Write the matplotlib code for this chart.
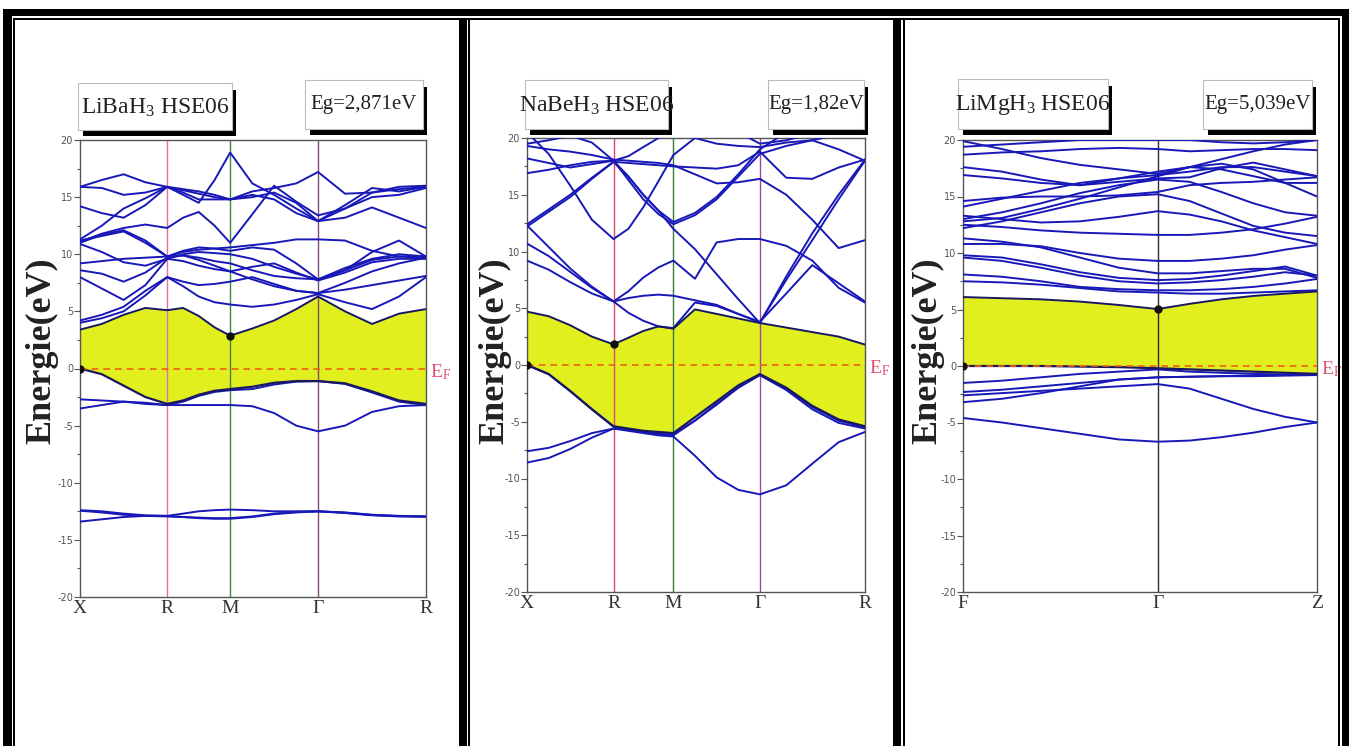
import matplotlib
matplotlib.use('Agg')
import matplotlib.pyplot as plt
from matplotlib.patches import Rectangle

plt.rcParams['mathtext.fontset'] = 'custom'
plt.rcParams['mathtext.rm'] = 'Liberation Serif'
plt.rcParams['mathtext.it'] = 'Liberation Serif'

# ---------------- data ----------------
# Panel 1 : LiBaH3
K1_LABELS = ['X', 'R', 'M', 'Γ', 'R']
K1_NODES = [0.0, 0.252, 0.434, 0.688, 1.0]
K1 = [0, 0.063, 0.126, 0.189, 0.252, 0.298, 0.343, 0.389, 0.434,
      0.498, 0.561, 0.625, 0.688, 0.766, 0.844, 0.922, 1.0]
P1_VBM = [0, -0.5, -1.5, -2.5, -3.1, -2.8, -2.3, -1.95, -1.8, -1.6, -1.25, -1.1, -1.1, -1.3, -2.0, -2.8, -3.1]
P1_CBM = [3.4, 3.9, 4.7, 5.3, 5.1, 5.3, 4.6, 3.6, 2.87, 3.5, 4.2, 5.2, 6.3, 5.0, 3.9, 4.8, 5.2]
P1_BANDS = [
    [-2.7, -2.8, -2.9, -3.1, -3.2, -2.9, -2.4, -2.05, -1.9, -1.8, -1.4, -1.15, -1.1, -1.35, -2.1, -2.9, -3.2],
    [-3.5, -3.2, -2.9, -3.0, -3.2, -3.2, -3.2, -3.2, -3.2, -3.3, -3.9, -5.0, -5.5, -5.0, -3.8, -3.3, -3.2],
    [-12.4, -12.5, -12.7, -12.85, -12.9, -12.7, -12.5, -12.4, -12.35, -12.4, -12.5, -12.5, -12.5, -12.6, -12.8, -12.9, -12.95],
    [-13.4, -13.2, -13.0, -12.9, -12.9, -13.0, -13.1, -13.15, -13.15, -13.0, -12.75, -12.6, -12.5, -12.65, -12.85, -12.95, -12.95],
    [-12.45, -12.6, -12.8, -12.9, -12.95, -13.0, -13.05, -13.1, -13.1, -12.95, -12.7, -12.55, -12.5, -12.62, -12.82, -12.92, -12.98],
    [4.0, 4.4, 5.0, 6.4, 8.0, 7.2, 6.3, 5.8, 5.6, 5.4, 5.6, 6.0, 6.5, 5.8, 5.2, 6.3, 8.0],
    [4.2, 4.7, 5.4, 6.8, 8.0, 7.6, 7.3, 7.4, 7.6, 8.0, 7.4, 6.8, 6.6, 6.9, 7.3, 7.7, 8.1],
    [8.0, 7.0, 6.0, 7.3, 9.6, 9.4, 9.0, 8.7, 8.5, 7.8, 7.2, 6.8, 6.6, 7.5, 8.5, 9.2, 9.7],
    [8.6, 8.3, 7.6, 8.4, 9.7, 9.9, 9.7, 9.4, 9.2, 8.6, 8.1, 7.9, 7.8, 8.6, 9.5, 9.8, 9.7],
    [9.2, 9.4, 9.6, 9.7, 9.8, 10.2, 10.4, 10.5, 10.6, 10.8, 11.0, 11.3, 11.3, 11.2, 10.3, 9.8, 9.8],
    [10.9, 10.2, 9.3, 9.0, 9.6, 10.0, 10.2, 10.1, 10.0, 9.6, 8.9, 8.3, 7.8, 8.8, 9.6, 10.0, 9.8],
    [11.0, 11.7, 12.1, 11.2, 9.8, 10.3, 10.6, 10.5, 10.3, 10.6, 10.4, 9.2, 7.8, 8.6, 10.2, 11.2, 9.8],
    [11.2, 11.6, 12.0, 11.0, 9.8, 9.9, 9.5, 9.0, 8.5, 8.9, 9.2, 8.4, 7.7, 8.4, 9.3, 9.6, 9.6],
    [11.3, 12.5, 14.0, 14.9, 15.9, 15.4, 14.8, 14.8, 14.8, 15.2, 14.8, 13.6, 12.9, 14.0, 15.4, 15.7, 15.9],
    [14.2, 13.6, 13.2, 14.3, 15.9, 15.2, 14.5, 16.5, 18.9, 16.2, 15.2, 14.0, 12.9, 13.2, 14.1, 13.2, 12.3],
    [15.9, 16.5, 17.0, 16.3, 15.9, 15.7, 15.5, 15.2, 14.8, 15.0, 15.4, 14.5, 12.9, 14.3, 15.8, 15.5, 15.9],
    [11.1, 11.8, 12.3, 12.6, 12.3, 13.2, 13.7, 12.5, 11.0, 13.5, 16.0, 14.6, 13.4, 14.0, 15.0, 15.2, 15.8],
    [15.9, 15.8, 15.2, 15.4, 15.9, 15.6, 15.3, 15.0, 14.8, 15.5, 15.8, 16.2, 17.2, 15.3, 15.4, 15.9, 16.0],
]
P1_VLINE_COLORS = ['#e070a8', '#3a8a3a', '#7a4a7a']

# Panel 2 : NaBeH3
K2_LABELS = ['X', 'R', 'M', 'Γ', 'R']
K2_NODES = [0.0, 0.256, 0.433, 0.689, 1.0]
K2 = [0, 0.064, 0.128, 0.192, 0.256, 0.300, 0.344, 0.389, 0.433,
      0.497, 0.561, 0.625, 0.689, 0.767, 0.844, 0.922, 1.0]
P2_VBM = [0, -0.8, -2.3, -3.9, -5.4, -5.6, -5.8, -5.9, -6.0, -4.6, -3.2, -1.8, -0.8, -2.0, -3.6, -4.8, -5.4]
P2_CBM = [4.7, 4.3, 3.5, 2.5, 1.82, 2.4, 3.0, 3.4, 3.2, 4.9, 4.5, 4.1, 3.7, 3.3, 2.9, 2.5, 1.8]
P2_BANDS = [
    [0, -0.8, -2.3, -3.9, -5.45, -5.65, -5.85, -6.0, -6.1, -4.9, -3.5, -2.0, -0.85, -2.1, -3.7, -4.9, -5.5],
    [-7.6, -7.3, -6.7, -6.0, -5.6, -5.8, -6.0, -6.2, -6.3, -8.0, -9.9, -11.0, -11.4, -10.6, -8.7, -6.8, -5.9],
    [-8.6, -8.2, -7.4, -6.4, -5.6, -5.7, -5.9, -6.1, -6.2, -4.9, -3.4, -2.0, -0.9, -2.2, -3.9, -5.1, -5.6],
    [9.2, 8.4, 7.3, 6.3, 5.6, 4.6, 3.9, 3.4, 3.25, 5.5, 5.2, 4.5, 3.75, 7.5, 11.0, 14.6, 18.0],
    [10.7, 9.6, 8.2, 6.8, 5.6, 6.5, 7.7, 8.6, 9.2, 7.6, 10.8, 11.1, 11.1, 10.5, 9.2, 6.8, 5.5],
    [12.3, 10.4, 8.5, 6.9, 5.6, 5.9, 6.1, 6.2, 6.1, 5.7, 5.3, 4.5, 3.8, 6.3, 8.8, 7.2, 5.6],
    [12.4, 13.7, 15.0, 16.5, 17.9, 16.6, 15.0, 13.6, 12.0, 10.2, 8.0, 5.8, 3.7, 7.8, 11.6, 15.0, 18.1],
    [12.2, 13.5, 14.8, 16.4, 17.9, 17.8, 17.7, 17.6, 17.5, 17.4, 17.3, 17.6, 18.8, 16.5, 16.4, 17.4, 18.1],
    [16.9, 17.2, 17.6, 17.9, 18.0, 16.6, 15.0, 13.6, 12.6, 13.4, 14.8, 16.8, 19.0, 20.5, 21.0, 21.0, 21.0],
    [20.5, 18.6, 15.8, 12.8, 11.1, 12.0, 13.9, 16.2, 18.5, 20.0, 21.0, 20.5, 19.5, 19.8, 20.4, 21.0, 21.0],
    [19.5, 19.8, 20.2, 19.6, 18.0, 18.4, 19.2, 20.0, 20.8, 20.0, 19.5, 19.3, 19.2, 19.6, 19.8, 19.0, 18.0],
    [18.2, 17.8, 17.4, 17.7, 18.0, 16.3, 14.6, 13.3, 12.4, 13.2, 14.6, 16.6, 18.6, 19.3, 19.8, 20.3, 21.0],
    [19.3, 19.0, 18.8, 18.5, 18.1, 18.0, 17.9, 17.8, 17.6, 16.8, 16.0, 16.1, 16.4, 15.0, 12.8, 10.3, 11.0],
]
P2_VLINE_COLORS = ['#e04a6a', '#3a7a3a', '#9a4a9a']

# Panel 3 : LiMgH3
K3_LABELS = ['F', 'Γ', 'Z']
K3_NODES = [0.0, 0.55, 1.0]
K3 = [0, 0.11, 0.22, 0.33, 0.44, 0.55, 0.64, 0.73, 0.82, 0.91, 1.0]
P3_VBM = [0, 0, 0, -0.05, -0.1, -0.2, -0.3, -0.4, -0.5, -0.6, -0.7]
P3_CBM = [6.1, 6.0, 5.9, 5.7, 5.4, 5.04, 5.5, 5.9, 6.2, 6.4, 6.6]
P3_BANDS = [
    [-1.5, -1.3, -1.0, -0.7, -0.5, -0.3, -0.5, -0.6, -0.7, -0.75, -0.8],
    [-2.3, -2.1, -1.8, -1.5, -1.2, -1.0, -0.95, -0.9, -0.9, -0.85, -0.8],
    [-2.6, -2.4, -2.2, -2.0, -1.8, -1.6, -2.0, -2.9, -3.8, -4.5, -5.0],
    [-3.2, -2.9, -2.4, -1.8, -1.2, -1.0, -0.95, -0.9, -0.85, -0.8, -0.8],
    [-4.6, -5.0, -5.5, -6.0, -6.5, -6.7, -6.6, -6.3, -5.9, -5.4, -5.0],
    [7.5, 7.4, 7.2, 6.9, 6.6, 6.5, 6.4, 6.4, 6.5, 6.6, 6.7],
    [8.1, 7.9, 7.5, 7.0, 6.8, 6.7, 6.7, 6.8, 7.0, 7.3, 7.7],
    [9.6, 9.3, 8.7, 8.0, 7.5, 7.3, 7.4, 7.6, 7.9, 8.3, 8.0],
    [9.8, 9.6, 9.0, 8.3, 7.8, 7.6, 7.7, 8.0, 8.4, 8.8, 8.0],
    [10.8, 10.8, 10.6, 10.0, 9.5, 9.3, 9.3, 9.5, 9.8, 10.3, 10.7],
    [11.3, 11.0, 10.5, 9.6, 8.7, 8.2, 8.2, 8.4, 8.6, 8.6, 7.8],
    [12.5, 12.3, 12.0, 11.8, 11.7, 11.6, 11.6, 11.8, 12.1, 12.6, 13.2],
    [12.2, 12.8, 13.6, 14.4, 15.0, 15.2, 14.6, 13.5, 12.4, 11.8, 11.5],
    [13.0, 13.6, 14.4, 15.3, 16.0, 16.5, 16.3, 15.4, 14.4, 13.6, 13.3],
    [14.1, 14.8, 15.5, 16.2, 16.6, 16.9, 17.2, 17.6, 17.6, 17.2, 16.8],
    [14.6, 14.9, 15.0, 15.0, 15.1, 15.4, 16.0, 16.2, 16.3, 16.5, 16.7],
    [16.9, 16.6, 16.2, 16.0, 16.3, 16.6, 16.7, 17.5, 18.0, 17.4, 16.8],
    [17.6, 17.2, 16.5, 16.0, 16.6, 17.2, 17.6, 17.4, 16.8, 16.2, 16.2],
    [18.7, 18.9, 19.0, 19.2, 19.3, 19.2, 19.0, 19.1, 19.2, 19.2, 19.1],
    [19.4, 19.6, 19.8, 20.0, 20.0, 20.0, 20.0, 19.8, 19.7, 19.8, 20.0],
    [19.9, 19.2, 18.4, 17.8, 17.4, 17.0, 17.6, 18.3, 19.0, 19.6, 20.0],
    [13.3, 13.0, 12.7, 12.8, 13.2, 13.7, 13.4, 12.8, 12.0, 11.4, 10.8],
    [12.8, 13.1, 13.9, 14.8, 15.8, 16.8, 17.6, 17.9, 17.4, 16.2, 15.0],
]
P3_VLINE_COLORS = ['#402040']

TITLES = ['LiBaH$_3$ HSE06', 'NaBeH$_3$ HSE06', 'LiMgH$_3$ HSE06']
GAPS = ['Eg=2,871eV', 'Eg=1,82eV', 'Eg=5,039eV']
CBM_POS = [(0.434, 2.871), (0.256, 1.82), (0.55, 5.039)]
Y_TICKS = [-20, -15, -10, -5, 0, 5, 10, 15, 20]

# ---------------- layout ----------------
W, H = 1349, 746
fig = plt.figure(figsize=(W / 100, H / 100), dpi=100)
fig.patch.set_facecolor('white')


def fx(x):
    return x / W


def fy(y):
    return 1 - y / H


def rect(x0, y0, x1, y1, fc='k', ec='none', lw=0, z=20):
    fig.patches.append(Rectangle((fx(x0), fy(y1)), fx(x1) - fx(x0), fy(y0) - fy(y1),
                                 transform=fig.transFigure, facecolor=fc,
                                 edgecolor=ec, linewidth=lw, zorder=z))


# outer frame (double lines)
rect(3, 9, 1349, 16)
rect(13, 18, 1340, 20)
rect(3, 9, 12, 746)
rect(13, 18, 15, 746)
rect(459, 18, 467, 746)
rect(468, 18, 470, 746)
rect(893, 18, 901, 746)
rect(903, 18, 905, 746)
rect(1338, 18, 1340, 746)
rect(1342, 9, 1349, 746)

BLUE = '#1818b8'
EDGE = '#181860'
YELLOW = '#e2ef1f'

panels = [
    dict(box=(80, 140, 426, 597), K=K1, nodes=K1_NODES, labels=K1_LABELS,
         vbm=P1_VBM, cbm=P1_CBM, bands=P1_BANDS, vcol=P1_VLINE_COLORS,
         title_box=(78, 83, 232, 130), gap_box=(305, 80, 423, 129), ylab_x=42),
    dict(box=(527, 138, 865, 592), K=K2, nodes=K2_NODES, labels=K2_LABELS,
         vbm=P2_VBM, cbm=P2_CBM, bands=P2_BANDS, vcol=P2_VLINE_COLORS,
         title_box=(525, 80, 668, 129), gap_box=(768, 80, 864, 129), ylab_x=495),
    dict(box=(963, 140, 1317, 592), K=K3, nodes=K3_NODES, labels=K3_LABELS,
         vbm=P3_VBM, cbm=P3_CBM, bands=P3_BANDS, vcol=P3_VLINE_COLORS,
         title_box=(958, 79, 1108, 129), gap_box=(1203, 80, 1312, 129), ylab_x=928),
]

for i, p in enumerate(panels):
    L, T, R, B = p['box']
    ax = fig.add_axes([fx(L), fy(B), fx(R) - fx(L), (B - T) / H])
    ax.set_xlim(0, 1)
    ax.set_ylim(-20, 20)
    ax.fill_between(p['K'], p['vbm'], p['cbm'], color=YELLOW, lw=0, zorder=1)
    for b in p['bands']:
        ax.plot(p['K'], b, color=BLUE, lw=1.4, zorder=3)
    ax.plot(p['K'], p['vbm'], color=EDGE, lw=1.6, zorder=4)
    ax.plot(p['K'], p['cbm'], color=EDGE, lw=1.4, zorder=4)
    for xn, c in zip(p['nodes'][1:-1], p['vcol']):
        ax.axvline(xn, color=c, lw=1.0, zorder=2)
    ax.axhline(0, color='#f06010', lw=1.2, ls=(0, (4, 3)), zorder=5)
    ax.plot([0, CBM_POS[i][0]], [0, CBM_POS[i][1]], 'o', color='#101010', ms=5, zorder=6)
    for s in ax.spines.values():
        s.set_color('#555555')
        s.set_linewidth(1.0)
    ax.set_xticks(p['nodes'])
    ax.set_xticklabels(p['labels'], family='Liberation Serif', fontsize=14, color='#333333')
    ax.tick_params(axis='x', length=0, pad=2)
    ax.set_yticks(Y_TICKS)
    ax.set_yticklabels([str(v) for v in Y_TICKS], fontsize=7, color='#555555')
    ax.set_yticks([-17.5, -12.5, -7.5, -2.5, 2.5, 7.5, 12.5, 17.5], minor=True)
    ax.tick_params(axis='y', which='major', direction='out', length=4, width=0.8,
                   color='#555555', pad=1)
    ax.tick_params(axis='y', which='minor', direction='out', length=2, width=0.8,
                   color='#555555')
    ax.text(1.012, -0.3, r'$\mathregular{E_F}$', transform=ax.get_yaxis_transform(),
            color='#e05070', fontsize=14, ha='left', va='center', family='Liberation Serif')
    # y label
    fig.text(fx(p['ylab_x']), fy(351), 'Energie(eV)', rotation=90, ha='center', va='center',
             family='Liberation Serif', fontweight='bold', fontsize=26, color='#222222')
    # title box with shadow
    x0, y0, x1, y1 = p['title_box']
    rect(x0 + 5, y0 + 7, x1 + 4, y1 + 6, fc='k', z=21)
    rect(x0, y0, x1, y1, fc='white', ec='#bbbbbb', lw=0.8, z=22)
    fig.text(fx((x0 + x1) / 2), fy((y0 + y1) / 2 + 1), TITLES[i], ha='center', va='center',
             family='Liberation Serif', fontsize=17, color='#222222', zorder=23)
    x0, y0, x1, y1 = p['gap_box']
    rect(x0 + 5, y0 + 7, x1 + 4, y1 + 6, fc='k', z=21)
    rect(x0, y0, x1, y1, fc='white', ec='#bbbbbb', lw=0.8, z=22)
    fig.text(fx((x0 + x1) / 2), fy((y0 + y1) / 2), GAPS[i], ha='center', va='center',
             family='Liberation Serif', fontsize=15, color='#222222', zorder=23)

fig.savefig('out.png', dpi=100)
